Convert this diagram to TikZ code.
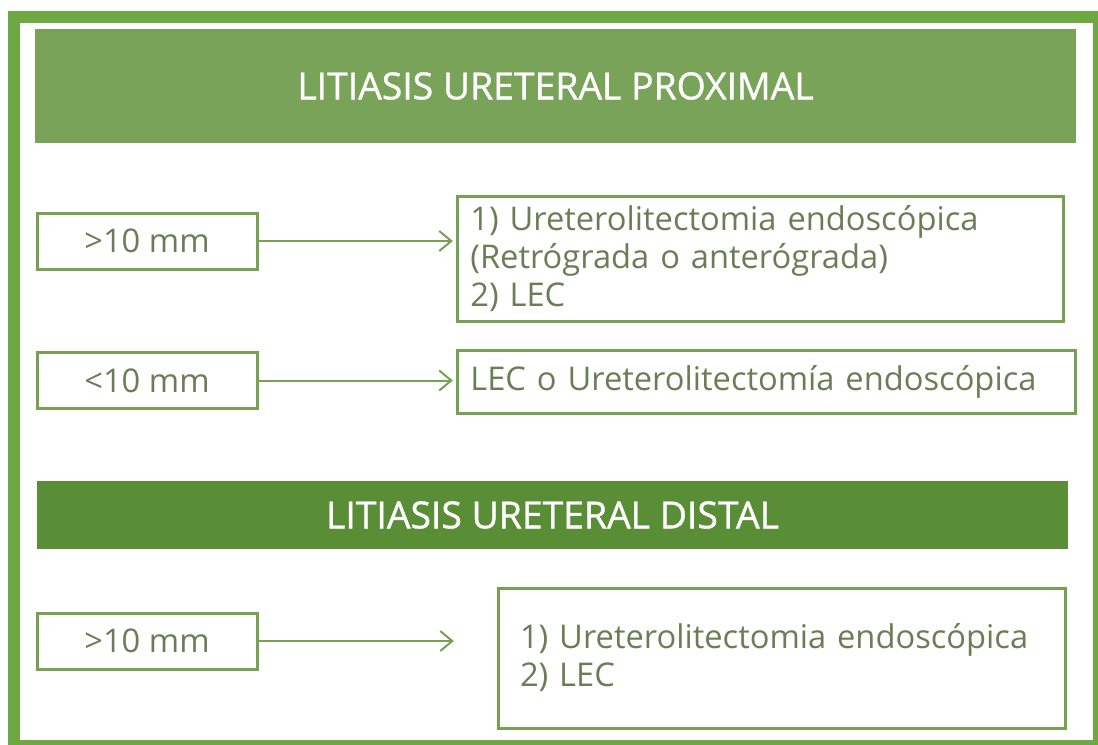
\documentclass[tikz,border=0pt]{standalone}
\usepackage{fontspec}
\setmainfont{Open Sans}
\newfontfamily\headfont[FakeBold=1]{Open Sans}
\usetikzlibrary{positioning, arrows.meta}
\definecolor{framegreen}{HTML}{6DA843}
\definecolor{headlight}{HTML}{7AA35A}
\definecolor{headdark}{HTML}{5A8E36}
\definecolor{boxgreen}{HTML}{78A052}
\definecolor{textgray}{HTML}{6A7D55}
\tikzset{header/.style={fill=#1, text=white, font=\headfont\fontsize{28}{32}\selectfont, inner sep=0pt},
         size box/.style={draw=boxgreen, line width=2.25pt, minimum width=165pt, minimum height=42pt,
                          text=textgray, font=\fontsize{24.5}{28.5}\selectfont, inner sep=0pt},
         option box/.style={draw=boxgreen, line width=2.25pt, text=textgray, align=left,
                            font=\fontsize{24.5}{28.5}\selectfont, inner ysep=0pt},
         flow/.style={draw=boxgreen, line width=1.5pt, -{Straight Barb[length=9pt,width=15pt,line width=1.5pt]}},
        }

\begin{document}
\begin{tikzpicture}[x=0.75pt, y=-0.75pt]
        \useasboundingbox (0,0) rectangle (1098,744);
        \clip (0,0) rectangle (1098,744);
        \draw[framegreen, line width=9pt] (14,17) rectangle (1099,746);

        \node[header=headlight, minimum width=780.75pt, minimum height=85.5pt](prox)at(555.5,86){LITIASIS URETERAL PROXIMAL};
        \node[size box](pbig)at(147,241){>10 mm};
        \node[size box](psmall)at(147,380.5){<10 mm};
        \node[option box, minimum height=93.75pt, inner xsep=10pt, text width=434.5pt](pbigt)at(760,258.5)
             {1) Ureterolitectomia endoscópica\\(Retrógrada o anterógrada)\\2) LEC};
        \node[option box, minimum height=47.25pt, inner xsep=10pt, text width=443.5pt](psmallt)at(766,381.5)
             {LEC o Ureterolitectomía endoscópica};
        \draw[flow, shorten >=2pt](pbig.east)--(pbig.east -| pbigt.west);
        \draw[flow, shorten >=2pt](psmall.east)--(psmall.east -| psmallt.west);

        \node[header=headdark, minimum width=773.25pt, minimum height=51pt](dist)at(552.5,515){LITIASIS URETERAL DISTAL};
        \node[size box](dbig)at(147,641){>10 mm};
        \node[option box, minimum height=105pt, inner xsep=16.5pt, text width=392.25pt](dbigt)at(781.5,658)
             {1) Ureterolitectomia endoscópica\\2) LEC};
        \draw[flow, shorten >=32pt](dbig.east)--(dbig.east -| dbigt.west);
\end{tikzpicture}
\end{document}
